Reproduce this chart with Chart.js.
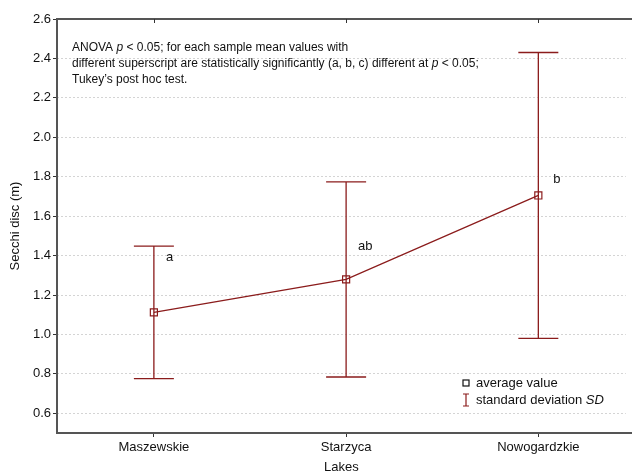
<!DOCTYPE html>
<html>
<head>
<meta charset="utf-8">
<script src="https://cdn.jsdelivr.net/npm/chart.js@4"></script>
<style>
  html, body { margin: 0; padding: 0; background: #fff; }
  #wrap { width: 632px; height: 474px; }
</style>
</head>
<body>
<div id="wrap"><canvas id="grafico" width="632" height="474"></canvas></div>
<script>
const lagos = ['Maszewskie', 'Starzyca', 'Nowogardzkie'];
const medias = [1.112, 1.279, 1.705];
const desvios = [0.336, 0.495, 0.725];
const letras = ['a', 'ab', 'b'];
const ticksY = [0.6, 0.8, 1.0, 1.2, 1.4, 1.6, 1.8, 2.0, 2.2, 2.4, 2.6];

const vermelho = '#8b1c1c';
const fonte = '"Liberation Sans", Arial, sans-serif';

// desenha texto com partes em italico
function textoMisto(ctx, partes, x, y, tam) {
  partes.forEach(p => {
    ctx.font = (p[1] ? 'italic ' : '') + tam + 'px ' + fonte;
    ctx.fillText(p[0], x, y);
    x += ctx.measureText(p[0]).width;
  });
}

const extras = {
  id: 'extras',
  beforeDatasetsDraw(chart) {
    const ctx = chart.ctx;
    const sx = chart.scales.x, sy = chart.scales.y;
    ctx.save();
    ctx.strokeStyle = vermelho;
    ctx.lineWidth = 1.3;
    medias.forEach((m, i) => {
      const x = sx.getPixelForValue(i + 1);
      const yTop = sy.getPixelForValue(m + desvios[i]);
      const yBot = sy.getPixelForValue(m - desvios[i]);
      ctx.beginPath();
      ctx.moveTo(x, yTop); ctx.lineTo(x, yBot);
      ctx.moveTo(x - 20, yTop); ctx.lineTo(x + 20, yTop);
      ctx.moveTo(x - 20, yBot); ctx.lineTo(x + 20, yBot);
      ctx.stroke();
    });
    ctx.restore();
  },
  afterDraw(chart) {
    const ctx = chart.ctx;
    const a = chart.chartArea;
    const sx = chart.scales.x, sy = chart.scales.y;
    ctx.save();
    // eixos
    ctx.strokeStyle = '#555';
    ctx.lineWidth = 2;
    ctx.beginPath();
    ctx.moveTo(a.left, a.top); ctx.lineTo(a.left, a.bottom);
    ctx.moveTo(a.left - 1, a.bottom); ctx.lineTo(632, a.bottom);
    ctx.moveTo(a.left - 1, a.top); ctx.lineTo(632, a.top);
    ctx.stroke();
    ctx.lineWidth = 1;
    ctx.strokeStyle = '#333';
    ctx.beginPath();
    [1, 2, 3].forEach(v => {
      const x = Math.round(sx.getPixelForValue(v)) + 0.5;
      ctx.moveTo(x, a.top); ctx.lineTo(x, a.top + 4);
    });
    ctx.stroke();

    // letras
    ctx.fillStyle = '#111';
    ctx.textBaseline = 'middle';
    ctx.font = '13px ' + fonte;
    const posLetras = [1.39, 1.446, 1.785];
    const dxLetras = [12, 12, 15];
    letras.forEach((l, i) => {
      ctx.fillText(l, sx.getPixelForValue(i + 1) + dxLetras[i], sy.getPixelForValue(posLetras[i]));
    });

    // nota
    textoMisto(ctx, [['ANOVA ', 0], ['p', 1], [' < 0.05; for each sample mean values with', 0]], 72, 48, 12);
    textoMisto(ctx, [['different superscript are statistically significantly (a, b, c) different at ', 0], ['p', 1], [' < 0.05;', 0]], 72, 64, 12);
    textoMisto(ctx, [['Tukey\u2019s post hoc test.', 0]], 72, 80, 12);

    // legenda
    ctx.strokeStyle = '#111';
    ctx.lineWidth = 1.2;
    ctx.fillStyle = '#fff';
    ctx.fillRect(463, 380, 6, 6);
    ctx.strokeRect(463, 380, 6, 6);
    ctx.strokeStyle = vermelho;
    ctx.beginPath();
    ctx.moveTo(466, 394); ctx.lineTo(466, 406);
    ctx.moveTo(463, 394); ctx.lineTo(469, 394);
    ctx.moveTo(463, 406); ctx.lineTo(469, 406);
    ctx.stroke();
    ctx.fillStyle = '#111';
    textoMisto(ctx, [['average value', 0]], 476, 383, 13);
    textoMisto(ctx, [['standard deviation ', 0], ['SD', 1]], 476, 400, 13);
    ctx.restore();
  }
};

new Chart(document.getElementById('grafico'), {
  type: 'line',
  data: {
    datasets: [{
      data: medias.map((m, i) => ({ x: i + 1, y: m })),
      borderColor: vermelho,
      borderWidth: 1.3,
      pointStyle: 'rect',
      pointRadius: 5,
      pointBackgroundColor: 'rgba(255,255,255,0)',
      pointBorderColor: vermelho,
      pointBorderWidth: 1.2,
      tension: 0
    }]
  },
  options: {
    responsive: false,
    animation: false,
    layout: { padding: { top: 19, right: 0, left: 0, bottom: 0 } },
    plugins: { legend: { display: false }, tooltip: { enabled: false } },
    scales: {
      x: {
        type: 'linear',
        min: 0.496,
        max: 3.455,
        afterBuildTicks: s => { s.ticks = [1, 2, 3].map(v => ({ value: v })); },
        afterFit: s => { s.height = 41; },
        ticks: {
          callback: v => lagos[v - 1],
          color: '#111',
          font: { family: fonte, size: 13 },
          padding: 3,
          maxRotation: 0
        },
        grid: { drawOnChartArea: false, tickLength: 4, tickColor: '#333' },
        border: { display: false },
        title: {
          display: true,
          text: 'Lakes',
          color: '#111',
          font: { family: fonte, size: 13 },
          padding: { top: 0, bottom: -1 }
        }
      },
      y: {
        min: 0.5,
        max: 2.6,
        afterBuildTicks: s => { s.ticks = ticksY.map(v => ({ value: v })); },
        afterFit: s => { s.width = 57; },
        ticks: {
          callback: v => v.toFixed(1),
          color: '#111',
          font: { family: fonte, size: 13 },
          padding: 2
        },
        grid: { color: '#d4d4d4', tickLength: 4, tickColor: '#333', tickBorderDash: [] },
        border: { display: false, dash: [2, 2] },
        title: {
          display: true,
          text: 'Secchi disc (m)',
          color: '#111',
          font: { family: fonte, size: 13 },
          padding: { top: 8, bottom: 0 }
        }
      }
    }
  },
  plugins: [extras]
});
</script>
</body>
</html>
